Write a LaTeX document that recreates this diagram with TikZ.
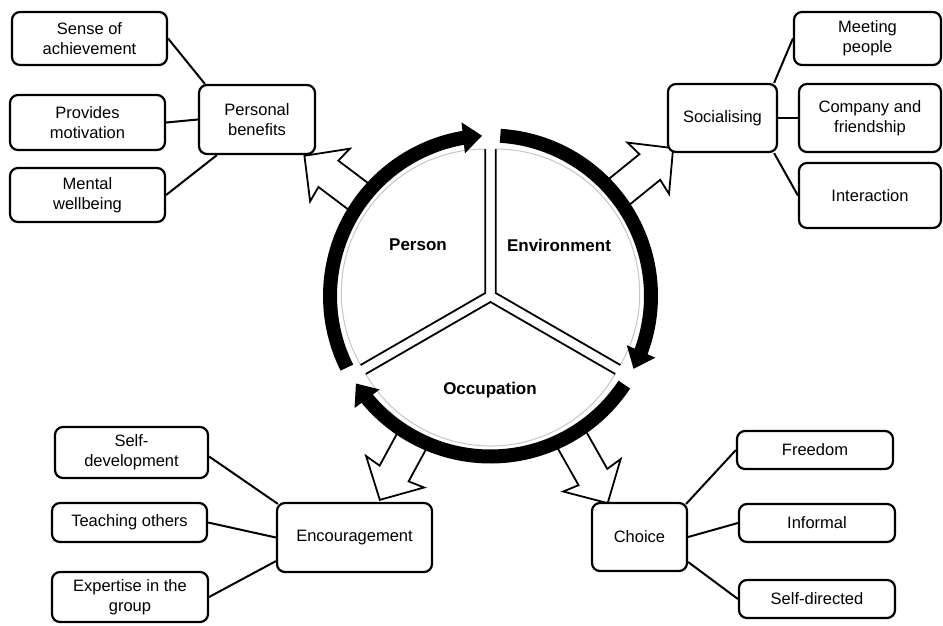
\documentclass[tikz,border=0pt]{standalone}
\usepackage{fontspec}
\setmainfont{Liberation Sans}
\usetikzlibrary{arrows.meta,bending,calc}
\begin{document}
\begin{tikzpicture}[x=1pt,y=1pt,
  box/.style={draw=black, line width=2.2pt, rounded corners=8pt, fill=white, align=center, inner sep=0pt, font=\fontsize{16.5}{20}\selectfont},
  link/.style={line width=2pt},
  ringarc/.style={line width=14pt, black, -{Triangle[width=30pt,length=19pt]}},
  centrelabel/.style={font=\fontsize{17}{20}\selectfont\bfseries},
  pics/blockarrow/.style={code={
    \draw[fill=white, line width=1.8pt, line join=miter]
      (158,-16.5) -- (#1-30,-16.5) -- (#1-32,-33) -- (#1,0) -- (#1-32,33) -- (#1-30,16.5) -- (158,16.5) -- cycle;}}
]
\useasboundingbox (0,0) rectangle (943,-625);

% centre and sector corners
\coordinate (C) at (490.5,-296);
\coordinate (P) at ($(C)+(150:6)$);
\coordinate (E) at ($(C)+(30:6)$);
\coordinate (O) at ($(C)+(270:6)$);

% block arrows (drawn first, ring covers their inner ends)
\pic[rotate=143] at (C) {blockarrow=233};
\pic[rotate=39] at (C) {blockarrow=235};
\pic[rotate=241.5] at (C) {blockarrow=232};
\pic[rotate=-60.5] at (C) {blockarrow=238};

% sectors
\foreach \pt/\a in {P/90, E/-30, O/210}{
  \fill[white] (\pt) -- ($(\pt)+(\a:144)$) arc[start angle=\a, end angle=\a+120, radius=144] -- cycle;
  \draw[gray!45, line width=1pt] ($(\pt)+(\a:144)$) arc[start angle=\a, end angle=\a+120, radius=144];
  \draw[line width=1.8pt, line join=miter] ($(\pt)+(\a:144)$) -- (\pt) -- ($(\pt)+(\a+120:144)$);
}

% circular arrows
\draw[ringarc] ($(C)+(206.5:160.5)$) arc[start angle=206.5, end angle=93, radius=160.5];
\draw[ringarc] ($(C)+(86.5:160.5)$) arc[start angle=86.5, end angle=-27, radius=160.5];
\draw[ringarc] ($(C)+(-33.5:160.5)$) arc[start angle=-33.5, end angle=-147, radius=160.5];

% centre labels
\node[centrelabel] (person) at (418,-245) {Person};
\node[centrelabel] (environment) at (559,-245) {Environment};
\node[centrelabel] (occupation) at (490,-390) {Occupation};

% boxes
\node[box, minimum width=155pt, minimum height=53pt] (sense) at (89.5,-38.5) {Sense of\\achievement};
\node[box, minimum width=155pt, minimum height=55pt] (motiv) at (87.5,-122.5) {Provides\\motivation};
\node[box, minimum width=155pt, minimum height=54pt] (mental) at (87.5,-195) {Mental\\wellbeing};
\node[box, minimum width=116pt, minimum height=69pt] (pb) at (257,-119.5) {Personal\\benefits};

\node[box, minimum width=147pt, minimum height=53pt] (meet) at (867.5,-38.5) {Meeting\\people};
\node[box, minimum width=142pt, minimum height=68pt] (comp) at (870,-118) {Company and\\friendship};
\node[box, minimum width=142pt, minimum height=65pt] (inter) at (870,-195.5) {Interaction};
\node[box, minimum width=109pt, minimum height=68pt] (soc) at (722.5,-118) {Socialising};

\node[box, minimum width=153pt, minimum height=51pt] (selfdev) at (131.5,-452.5) {Self-\\development};
\node[box, minimum width=155pt, minimum height=39pt] (teach) at (129.5,-522.5) {Teaching others};
\node[box, minimum width=156pt, minimum height=50pt] (expert) at (130,-597) {Expertise in the\\group};
\node[box, minimum width=155pt, minimum height=69pt] (enc) at (354.5,-537.5) {Encouragement};

\node[box, minimum width=156pt, minimum height=38pt] (free) at (815,-450) {Freedom};
\node[box, minimum width=156pt, minimum height=38pt] (informal) at (817,-523) {Informal};
\node[box, minimum width=156pt, minimum height=38pt] (selfdir) at (817,-599) {Self-directed};
\node[box, minimum width=95pt, minimum height=68pt] (choice) at (639.5,-537) {Choice};

% connectors
\draw[link] (sense.east) -- ([shift={(7,0)}]pb.north west);
\draw[link] (motiv.east) -- (pb.west);
\draw[link] (mental.east) -- ([shift={(19,0)}]pb.south west);
\draw[link] ([shift={(-4,0)}]soc.north east) -- (meet.west);
\draw[link] (soc.east) -- (comp.west);
\draw[link] ([shift={(-4,0)}]soc.south east) -- (inter.west);
\draw[link] ([shift={(0,-4)}]selfdev.east) -- ([shift={(2,-2)}]enc.north west);
\draw[link] (teach.east) -- (enc.west);
\draw[link] (expert.east) -- ([shift={(0,12)}]enc.south west);
\draw[link] ([shift={(-2,-2)}]choice.north east) -- (free.west);
\draw[link] (choice.east) -- (informal.west);
\draw[link] ([shift={(0,-25)}]choice.east) -- (selfdir.west);
\end{tikzpicture}
\end{document}
